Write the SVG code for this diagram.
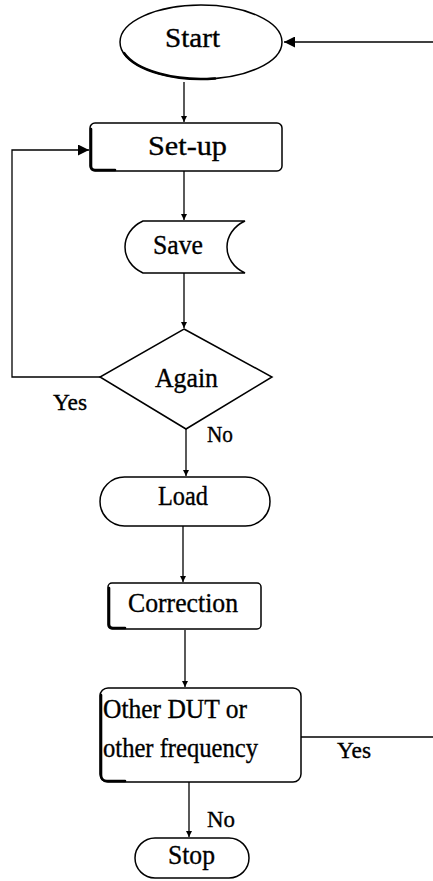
<svg xmlns="http://www.w3.org/2000/svg" width="433" height="881" viewBox="0 0 433 881">
<style>
.s{fill:#fff;stroke:#000;stroke-width:1.5}
.e{fill:none;stroke:#000;stroke-width:2.6;stroke-linecap:round}
.c{fill:none;stroke:#000;stroke-width:1.3}
text{font-family:"Liberation Serif","Times New Roman",serif;fill:#000;stroke:#000;stroke-width:0.35;text-anchor:middle}
.t{font-size:27px}
.l{font-size:23px}
</style>
<defs>
<marker id="a" viewBox="0 0 10 10" refX="10" refY="5" markerWidth="6" markerHeight="7" markerUnits="userSpaceOnUse" orient="auto"><path d="M0,0L10,5L0,10z" fill="#000"/></marker>
<marker id="b" viewBox="0 0 10 10" refX="10" refY="5" markerWidth="12" markerHeight="11" markerUnits="userSpaceOnUse" orient="auto"><path d="M0,0L10,5L0,10z" fill="#000"/></marker>
</defs>
<g id="connectors">
<path class="c" d="M433,42H284" marker-end="url(#b)"/>
<path class="c" d="M184,82V122" marker-end="url(#a)"/>
<path class="c" d="M184,171V220" marker-end="url(#a)"/>
<path class="c" d="M184,273V328" marker-end="url(#a)"/>
<path class="c" d="M100,377H12V150H89" marker-end="url(#b)"/>
<path class="c" d="M186,429V476" marker-end="url(#a)"/>
<path class="c" d="M183,526V582" marker-end="url(#a)"/>
<path class="c" d="M185,630V687" marker-end="url(#a)"/>
<path class="c" d="M301,737H433"/>
<path class="c" d="M189,782V837" marker-end="url(#a)"/>
<text class="l" x="70" y="410" textLength="34" lengthAdjust="spacingAndGlyphs">Yes</text>
<text class="l" x="220" y="442" textLength="26" lengthAdjust="spacingAndGlyphs">No</text>
<text class="l" x="354" y="758" textLength="34" lengthAdjust="spacingAndGlyphs">Yes</text>
<text class="l" x="221" y="827" textLength="28" lengthAdjust="spacingAndGlyphs">No</text>
</g>
<g id="start">
<ellipse class="s" cx="201" cy="42" rx="81" ry="37"/>
<path class="e" d="M124,53A81,37 0 0 0 215,78.5"/>
<text class="t" x="192.5" y="47" font-size="29" textLength="55" lengthAdjust="spacingAndGlyphs">Start</text>
</g>
<g id="setup">
<rect class="s" x="90" y="123" width="192" height="48" rx="5"/>
<path class="e" d="M91,129V166Q91,170 95,170H115"/>
<text class="t" x="187.5" y="155" font-size="29" textLength="79" lengthAdjust="spacingAndGlyphs">Set-up</text>
</g>
<g id="save">
<path class="s" d="M143,221H245C221,232 221,262 245,273H143C119,262 119,232 143,221Z"/>
<text class="t" x="178" y="254" textLength="50" lengthAdjust="spacingAndGlyphs">Save</text>
</g>
<g id="again">
<path class="s" d="M184,329L272,377L186,429L100,377Z"/>
<text class="t" x="186.5" y="387" textLength="63" lengthAdjust="spacingAndGlyphs">Again</text>
</g>
<g id="load">
<rect class="s" x="100" y="477" width="170" height="49" rx="24.5"/>
<text class="t" x="183" y="505" textLength="50" lengthAdjust="spacingAndGlyphs">Load</text>
</g>
<g id="correction">
<rect class="s" x="108" y="583" width="153" height="46" rx="4"/>
<path class="e" d="M109,588V624Q109,628 113,628H125"/>
<text class="t" x="183" y="612" textLength="110" lengthAdjust="spacingAndGlyphs">Correction</text>
</g>
<g id="other">
<rect class="s" x="100" y="688" width="201" height="94" rx="8"/>
<path class="e" d="M101,695V775Q101,781 107,781H125"/>
<text class="t" x="175" y="718" font-size="28" textLength="144" lengthAdjust="spacingAndGlyphs">Other DUT or</text>
<text class="t" x="180.5" y="757" font-size="28" textLength="155" lengthAdjust="spacingAndGlyphs">other frequency</text>
</g>
<g id="stop">
<rect class="s" x="135" y="838" width="114" height="40" rx="20"/>
<text class="t" x="191.5" y="864" font-size="25" textLength="47" lengthAdjust="spacingAndGlyphs">Stop</text>
</g>
</svg>
